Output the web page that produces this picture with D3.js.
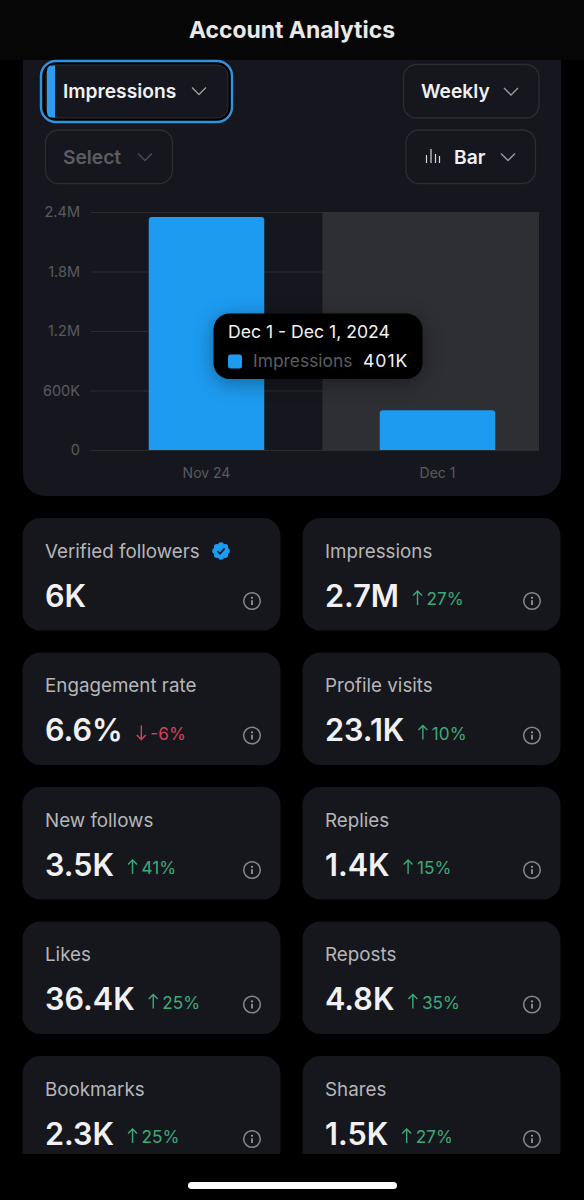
<!DOCTYPE html>
<html>
<head>
<meta charset="utf-8">
<script src="https://cdn.jsdelivr.net/npm/d3@7"></script>
<style>
  html, body { margin: 0; background: #000; }
  svg { display: block; font-family: Inter, "Noto Sans", sans-serif; }
</style>
</head>
<body>
<svg id="chart" width="584" height="1200"></svg>
<script>
const periods = ['Nov 24', 'Dec 1']
const impressions = [2350000, 401000]
const yTicks = [0, 600000, 1200000, 1800000, 2400000]
const yTickLabels = ['0', '600K', '1.2M', '1.8M', '2.4M']

const cardLabels = ['Verified followers', 'Impressions', 'Engagement rate', 'Profile visits', 'New follows',
  'Replies', 'Likes', 'Reposts', 'Bookmarks', 'Shares']
const cardValues = ['6K', '2.7M', '6.6%', '23.1K', '3.5K', '1.4K', '36.4K', '4.8K', '2.3K', '1.5K']
const cardDeltas = [null, 27, -6, 10, 41, 15, 25, 35, 25, 27]

const BLUE = '#1d9bf0'
const svg = d3.select('#chart')

// Draws a small downward chevron centred on (cx, cy)
function chevron (cx, cy, color) {
  svg.append('path')
    .attr('d', `M${cx - 7},${cy - 3.5}L${cx},${cy + 3.5}L${cx + 7},${cy - 3.5}`)
    .attr('fill', 'none').attr('stroke', color).attr('stroke-width', 1.4)
}

// Draws one dropdown button with its text and chevron
function dropdown (box, label, textX, chevronX, color) {
  svg.append('rect')
    .attr('x', box[0]).attr('y', box[1]).attr('width', box[2]).attr('height', box[3])
    .attr('rx', 13).attr('fill', 'none').attr('stroke', '#2c2d33').attr('stroke-width', 1.3)
  svg.append('text').attr('x', textX).attr('y', box[1] + 33.5)
    .attr('font-size', 19.2).attr('font-weight', 600).attr('fill', color).text(label)
  chevron(chevronX, box[1] + 27, color === '#f0f0f2' ? '#9a9ba0' : '#4d4e54')
}

// Chart panel, behind the header
svg.append('rect').attr('x', 23).attr('y', 30).attr('width', 538).attr('height', 466)
  .attr('rx', 22).attr('fill', '#16171e')

// Header
svg.append('rect').attr('width', 584).attr('height', 60).attr('fill', '#060606')
svg.append('text').attr('x', 292).attr('y', 38).attr('text-anchor', 'middle')
  .attr('font-size', 22.9).attr('font-weight', 700).attr('fill', '#e9e9e9').text('Account Analytics')

// Dropdowns
svg.append('rect').attr('x', 41).attr('y', 61).attr('width', 191).attr('height', 61)
  .attr('rx', 15).attr('fill', '#000').attr('stroke', '#2f93de').attr('stroke-width', 2.4)
svg.append('rect').attr('x', 46).attr('y', 65).attr('width', 182).attr('height', 53)
  .attr('rx', 11).attr('fill', '#16171e').attr('stroke', '#2c2d33').attr('stroke-width', 1)
svg.append('path').attr('d', 'M55,65.5V117.5H52Q47,117.5 47,112V71Q47,65.5 52,65.5Z').attr('fill', '#2b9cef')
svg.append('text').attr('x', 63).attr('y', 98).attr('font-size', 19.2).attr('font-weight', 600)
  .attr('fill', '#f0f0f2').text('Impressions')
chevron(199, 91, '#9a9ba0')
dropdown([403.5, 64.5, 135.5, 53.5], 'Weekly', 421, 511, '#f0f0f2')
dropdown([45.5, 130, 127, 53.5], 'Select', 63, 145, '#5c5d63')
dropdown([406, 130, 129.5, 53.5], 'Bar', 454, 508, '#f0f0f2')

// Small bar glyph in the chart type dropdown
svg.append('path')
  .attr('d', 'M426.5,155V163M431,149V163M435.5,154V163M439.5,156V163')
  .attr('stroke', '#d8d8da').attr('stroke-width', 1.2).attr('fill', 'none')

// Scales
const x = d3.scaleBand().domain(periods).range([91, 553]).paddingInner(0.5).paddingOuter(0.25)
const y = d3.scaleLinear().domain([0, 2400000]).range([450, 212])
const plotRight = 539

// Y axis with its grid lines
const yAxis = svg.append('g').attr('transform', 'translate(91,0)')
  .call(d3.axisLeft(y).tickValues(yTicks).tickFormat((d, i) => yTickLabels[i])
    .tickSize(-(plotRight - 91)).tickPadding(11))
yAxis.select('.domain').remove()
yAxis.selectAll('line').attr('stroke', '#2b2c32').attr('stroke-width', 1)
yAxis.selectAll('text').attr('fill', '#585a60').attr('font-size', 14.5)
  .attr('font-family', 'Inter, "Noto Sans", sans-serif')

// Highlighted period, over the grid lines
const highlightLeft = x('Dec 1') + x.bandwidth() / 2 - 115
svg.append('rect').attr('x', highlightLeft).attr('y', y(2400000))
  .attr('width', plotRight - highlightLeft).attr('height', y(0) - y(2400000)).attr('fill', '#2e2f33')

// Bars
svg.selectAll('.bar')
  .data(impressions)
  .enter()
  .append('path')
  .attr('class', 'bar')
  .attr('d', (d, i) => {
    const left = x(periods[i])
    const right = left + x.bandwidth()
    return `M${left},${y(0)}V${y(d) + 3}Q${left},${y(d)} ${left + 3},${y(d)}H${right - 3}Q${right},${y(d)} ${right},${y(d) + 3}V${y(0)}Z`
  })
  .attr('fill', BLUE)

// X axis
const xAxis = svg.append('g').attr('transform', 'translate(0,450)')
  .call(d3.axisBottom(x).tickSize(0).tickPadding(18))
xAxis.select('.domain').remove()
xAxis.selectAll('text').attr('fill', '#585a60').attr('font-size', 14)
  .attr('font-family', 'Inter, "Noto Sans", sans-serif')

// Tooltip
const tip = svg.append('g').attr('transform', 'translate(213.5,313.5)')
tip.append('rect').attr('width', 209).attr('height', 65.5).attr('rx', 16).attr('fill', '#000')
  .style('filter', 'drop-shadow(0 4px 10px rgba(0,0,0,0.35))')
tip.append('text').attr('x', 14.5).attr('y', 24.5).attr('font-size', 17.6).attr('fill', '#f2f2f2')
  .text(`Dec 1 - Dec 1, 2024`)
tip.append('rect').attr('x', 14.5).attr('y', 41).attr('width', 14).attr('height', 14).attr('rx', 2.5).attr('fill', BLUE)
tip.append('text').attr('x', 39.5).attr('y', 53.5).attr('font-size', 17.4).attr('fill', '#5b5d63').text('Impressions')
tip.append('text').attr('x', 149.5).attr('y', 53.5).attr('font-size', 17.6).attr('letter-spacing', 1).attr('fill', '#f2f2f2')
  .text(d3.format('.0f')(impressions[1] / 1000) + 'K')

// Metric cards, clipped at the bottom of the scroll area
svg.append('clipPath').attr('id', 'scroll-clip').append('rect')
  .attr('x', 0).attr('y', 500).attr('width', 584).attr('height', 654)
const cardsG = svg.append('g').attr('clip-path', 'url(#scroll-clip)')
const cardWidth = 258
const cardHeight = 112.5
const rowStep = 134.5

const cards = cardsG.selectAll('.card')
  .data(cardLabels)
  .enter()
  .append('g')
  .attr('class', 'card')
  .attr('transform', (d, i) => `translate(${i % 2 ? 302.5 : 22.5},${518 + Math.floor(i / 2) * rowStep})`)

cards.append('rect').attr('width', cardWidth).attr('height', cardHeight).attr('rx', 18).attr('fill', '#16171c')
cards.append('text').attr('x', 22.5).attr('y', 39.5).attr('font-size', 18.8).attr('fill', '#b5b6ba').text(d => d)
cards.append('text').attr('class', 'value').attr('x', 22.5).attr('y', 88.5)
  .attr('font-size', 30.6).attr('font-weight', 600).attr('fill', '#f1f1f3').text((d, i) => cardValues[i])

// Info icon
const info = cards.append('g').attr('transform', `translate(229.5,83)`)
info.append('circle').attr('r', 8.3).attr('fill', 'none').attr('stroke', '#85868b').attr('stroke-width', 1.5)
info.append('circle').attr('cy', -3.2).attr('r', 1.1).attr('fill', '#9a9ba0')
info.append('line').attr('y1', -0.8).attr('y2', 4).attr('stroke', '#9a9ba0').attr('stroke-width', 1.7)

// Change against the previous period, placed after the measured value
cards.each(function (d, i) {
  const delta = cardDeltas[i]
  if (delta === null) return
  const card = d3.select(this)
  const end = 22.5 + card.select('.value').node().getComputedTextLength()
  const color = delta < 0 ? '#d4425a' : '#3fa878'
  const ax = end + 18.5
  const arrow = delta < 0
    ? `M${ax},73V87M${ax - 4.5},82.5L${ax},87L${ax + 4.5},82.5`
    : `M${ax},87V73M${ax - 4.5},77.5L${ax},73L${ax + 4.5},77.5`
  card.append('path').attr('d', arrow).attr('fill', 'none').attr('stroke', color).attr('stroke-width', 1.4)
  card.append('text').attr('x', end + 27.5).attr('y', 87).attr('font-size', 17.2).attr('fill', color)
    .text(delta + '%')
})

// Verified badge next to the first label
const badge = svg.append('g').attr('transform', 'translate(221,551)')
d3.range(8).forEach(k => {
  badge.append('circle').attr('r', 3).attr('fill', BLUE)
    .attr('cx', 5.8 * Math.cos(k * Math.PI / 4)).attr('cy', 5.8 * Math.sin(k * Math.PI / 4))
})
badge.append('circle').attr('r', 6.5).attr('fill', BLUE)
badge.append('path').attr('d', 'M-3.5,0.2L-1,2.8L3.6,-2.6').attr('fill', 'none')
  .attr('stroke', '#10202e').attr('stroke-width', 1.7)

// Home indicator
svg.append('rect').attr('x', 188).attr('y', 1182).attr('width', 209).attr('height', 7).attr('rx', 3.5).attr('fill', '#fff')
</script>
</body>
</html>
